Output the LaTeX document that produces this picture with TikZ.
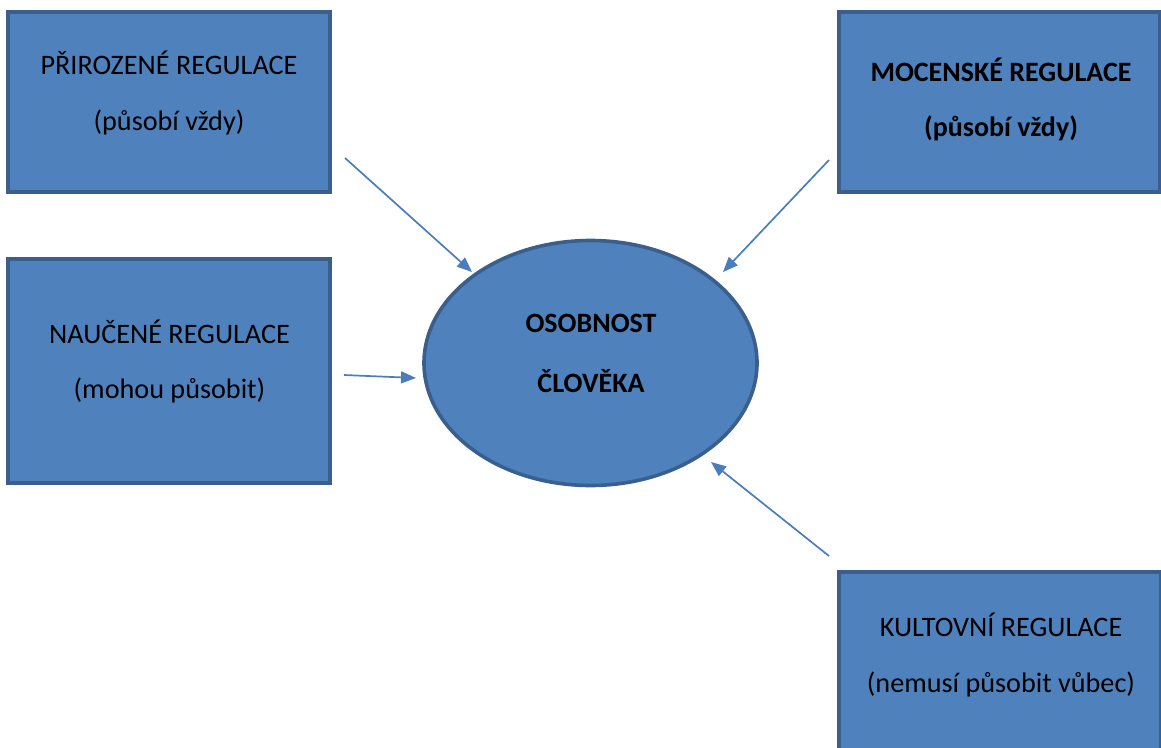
\documentclass[tikz,border=0pt]{standalone}
\usepackage{fontspec}
\setmainfont{Carlito}
\usetikzlibrary{arrows.meta,shapes.geometric}
\definecolor{boxfill}{HTML}{4F81BD}
\definecolor{boxdraw}{HTML}{3A5F8D}
\definecolor{arrowcol}{HTML}{4A7EBB}
\tikzset{
  regbox/.style={draw=boxdraw, fill=boxfill, line width=3.6pt, rectangle, inner sep=0pt},
  lbl/.style={inner sep=0pt, font=\fontsize{28.2}{30}\selectfont, text=black},
  blbl/.style={lbl, font=\fontsize{28}{30}\selectfont\bfseries},
  conn/.style={draw=arrowcol, line width=1.7pt, -{Triangle[length=15pt,width=12pt]}}
}
\begin{document}
\begin{tikzpicture}[x=1pt,y=-1pt]
\useasboundingbox (0,0) rectangle (1161,747);
\clip (0,0) rectangle (1161,747);
% boxes
\node[regbox, minimum width=322pt, minimum height=180pt] (b1) at (169,102) {};
\node[regbox, minimum width=321pt, minimum height=180pt] (b2) at (999.5,102) {};
\node[regbox, minimum width=322pt, minimum height=224pt] (b3) at (169,371) {};
\node[regbox, minimum width=322pt, minimum height=200pt] (b4) at (1000,672) {};
% ellipse
\node[draw=boxdraw, fill=boxfill, line width=3.6pt, ellipse, minimum width=333pt, minimum height=245pt, inner sep=0pt] (e) at (590.5,363) {};
% texts
\node[lbl] (t1a) at (169,63) {PŘIROZENÉ REGULACE};
\node[lbl] (t1b) at (169,122) {(působí vždy)};
\node[blbl] (t2a) at (1001,70) {MOCENSKÉ REGULACE};
\node[blbl] (t2b) at (1001,128) {(působí vždy)};
\node[lbl] (t3a) at (169.5,332) {NAUČENÉ REGULACE};
\node[lbl] (t3b) at (169.5,390) {(mohou působit)};
\node[lbl] (t4a) at (1001,625) {KULTOVNÍ REGULACE};
\node[lbl] (t4b) at (1001,684) {(nemusí působit vůbec)};
\node[blbl] (te1) at (591,323) {OSOBNOST};
\node[blbl] (te2) at (591,381) {ČLOVĚKA};
% arrows
\coordinate (a1s) at (345,158);
\coordinate (a1e) at (472,272);
\coordinate (a2s) at (829,160);
\coordinate (a2e) at (723,272);
\coordinate (a3s) at (344,375);
\coordinate (a3e) at (416,378);
\coordinate (a4s) at (829,556);
\coordinate (a4e) at (711,462);
\draw[conn] (a1s) -- (a1e);
\draw[conn] (a2s) -- (a2e);
\draw[conn] (a3s) -- (a3e);
\draw[conn] (a4s) -- (a4e);
\end{tikzpicture}
\end{document}
